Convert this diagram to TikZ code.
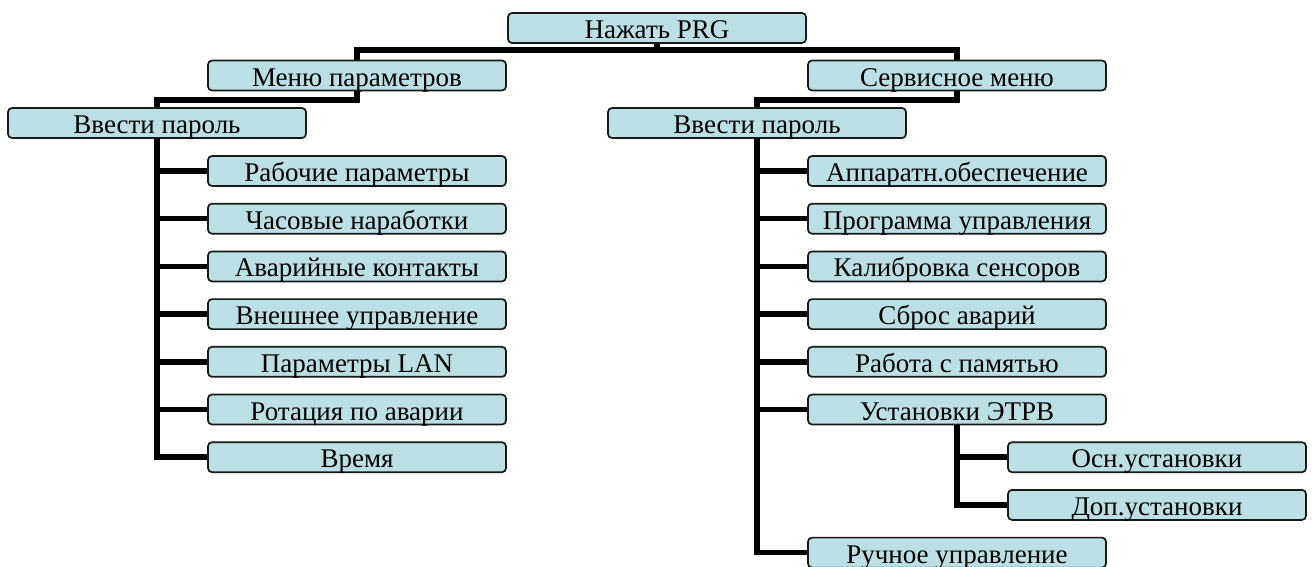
\documentclass[tikz,border=0pt]{standalone}
\usepackage{fontspec}
\setmainfont{Liberation Serif}
\usetikzlibrary{positioning}
\definecolor{boxfill}{RGB}{187,224,227}

\begin{document}
\begin{tikzpicture}[x=1pt,y=1pt,
  item/.style={draw=black!90,line width=1.7pt,fill=boxfill,rounded corners=4pt,
    minimum width=298pt,inner xsep=0pt,inner ysep=0pt,
    text height=25.5pt,text depth=4.5pt,font=\fontsize{27}{31}\selectfont},
  conn/.style={line width=5.5pt}]
  \useasboundingbox (0,0) rectangle (1313,-566);
  \clip (0,0) rectangle (1313,-566);
  % top levels
  \node[item] (prg) at (657,-28) {Нажать PRG};
  \node[item] (menu) at (357,-75.5) {Меню параметров};
  \node[item] (serv) at (957,-75.5) {Сервисное меню};
  \node[item] (passL) at (157,-123) {Ввести пароль};
  \node[item] (passR) at (757,-123) {Ввести пароль};
  % parameters menu
  \node[item] (work) at (357,-171) {Рабочие параметры};
  \node[item] (hours) at (357,-218.7) {Часовые наработки};
  \node[item] (alarm) at (357,-266.4) {Аварийные контакты};
  \node[item] (ext) at (357,-314.1) {Внешнее управление};
  \node[item] (lan) at (357,-361.8) {Параметры LAN};
  \node[item] (rot) at (357,-409.5) {Ротация по аварии};
  \node[item] (time) at (357,-457.2) {Время};
  % service menu
  \node[item] (hw) at (957,-171) {Аппаратн.обеспечение};
  \node[item] (prog) at (957,-218.7) {Программа управления};
  \node[item] (calib) at (957,-266.4) {Калибровка сенсоров};
  \node[item] (reset) at (957,-314.1) {Сброс аварий};
  \node[item] (mem) at (957,-361.8) {Работа с памятью};
  \node[item] (etrv) at (957,-409.5) {Установки ЭТРВ};
  \node[item] (osn) at (1157,-457.2) {Осн.установки};
  \node[item] (dop) at (1157,-504.9) {Доп.установки};
  \node[item] (manual) at (957,-552.6) {Ручное управление};
  % connectors
  \draw[conn] (prg.south) -- ++(0,-6) -| (menu.north);
  \draw[conn] (prg.south) -- ++(0,-6) -| (serv.north);
  \draw[conn] (menu.south) -- ++(0,-8.5) -| (passL.north);
  \draw[conn] (serv.south) -- ++(0,-8.5) -| (passR.north);
  \draw[conn] (passL.south) |- (work.west);
  \draw[conn] (passL.south) |- (hours.west);
  \draw[conn] (passL.south) |- (alarm.west);
  \draw[conn] (passL.south) |- (ext.west);
  \draw[conn] (passL.south) |- (lan.west);
  \draw[conn] (passL.south) |- (rot.west);
  \draw[conn] (passL.south) |- (time.west);
  \draw[conn] (passR.south) |- (hw.west);
  \draw[conn] (passR.south) |- (prog.west);
  \draw[conn] (passR.south) |- (calib.west);
  \draw[conn] (passR.south) |- (reset.west);
  \draw[conn] (passR.south) |- (mem.west);
  \draw[conn] (passR.south) |- (etrv.west);
  \draw[conn] (passR.south) |- (manual.west);
  \draw[conn] (etrv.south) |- (osn.west);
  \draw[conn] (etrv.south) |- (dop.west);
\end{tikzpicture}
\end{document}
